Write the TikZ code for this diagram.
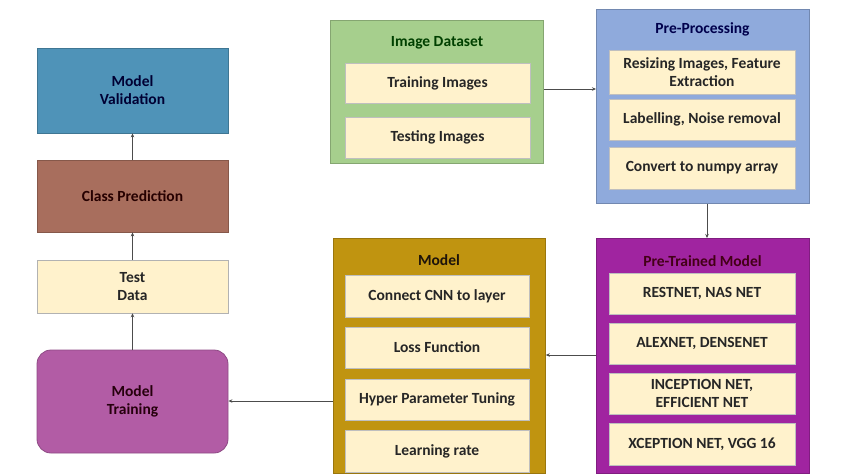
\documentclass[tikz,border=0pt]{standalone}
\usepackage{fontspec}
\setmainfont{Carlito}
\usetikzlibrary{arrows.meta}
\definecolor{cream}{HTML}{FFF2CC}
\definecolor{valblue}{HTML}{4F93B8}
\definecolor{predbrown}{HTML}{A86E5D}
\definecolor{trainpurple}{HTML}{B25CA5}
\definecolor{dsgreen}{HTML}{A6CF8D}
\definecolor{ppblue}{HTML}{8FAADC}
\definecolor{ptpurple}{HTML}{A024A0}
\definecolor{mdgold}{HTML}{C09410}
\tikzset{
  every node/.style={font=\bfseries\fontsize{15.5}{18}\selectfont, text=black!85, align=center, inner sep=0pt},
  outer/.style={draw=#1!80!black, fill=#1, line width=0.8pt},
  inner/.style={draw=black!25, fill=cream, line width=0.5pt},
  conn/.style={draw=black!70, line width=0.7pt, -{Stealth[length=4pt,width=3.5pt]}},
}
\begin{document}
\begin{tikzpicture}[x=1pt,y=-1pt]
\useasboundingbox (0,0) rectangle (850,475);
% left column
\node[outer=valblue, minimum width=191, minimum height=85, text=black!80!blue] (val) at (132.5,90.5) {Model\\Validation};
\node[outer=predbrown, minimum width=191, minimum height=72, text=black!85!red] (pred) at (132.5,196) {Class Prediction};
\node[inner, draw=black!30, minimum width=191, minimum height=53] (test) at (132.5,286.5) {Test\\Data};
\node[outer=trainpurple, rounded corners=14pt, minimum width=191, minimum height=103, text=black!80!purple] (train) at (132.5,401.5) {Model\\Training};
% image dataset
\node[outer=dsgreen, minimum width=213, minimum height=143, anchor=north west] (ds) at (330,20) {};
\node[text=black!75!green] (dst) at (437,43) {Image Dataset};
\node[inner, minimum width=185, minimum height=40] (tri) at (437.5,83) {Training Images};
\node[inner, minimum width=185, minimum height=41] (tei) at (437.5,137.5) {Testing Images};
% pre-processing
\node[outer=ppblue, minimum width=213, minimum height=194, anchor=north west] (pp) at (596,9) {};
\node[text=black!70!blue] (ppt) at (702.5,29) {Pre-Processing};
\node[inner, minimum width=186, minimum height=44] (rs) at (702,72) {Resizing Images, Feature\\Extraction};
\node[inner, minimum width=186, minimum height=41] (lb) at (702,119.5) {Labelling, Noise removal};
\node[inner, minimum width=186, minimum height=42] (cv) at (702,168) {Convert to numpy array};
% pre-trained model
\node[outer=ptpurple, minimum width=213, minimum height=235, anchor=north west] (pt) at (596,238) {};
\node[text=black!65!purple] (ptt) at (702.5,261) {Pre-Trained Model};
\node[inner, minimum width=186, minimum height=41] (m1) at (702,293.5) {RESTNET, NAS NET};
\node[inner, minimum width=186, minimum height=41] (m2) at (702,343.5) {ALEXNET, DENSENET};
\node[inner, minimum width=186, minimum height=41] (m3) at (702,393.5) {INCEPTION NET,\\EFFICIENT NET};
\node[inner, minimum width=186, minimum height=42] (m4) at (702,444) {XCEPTION NET, VGG 16};
% model
\node[outer=mdgold, minimum width=212, minimum height=235, anchor=north west] (md) at (333,238) {};
\node[text=black!85!brown] (mdt) at (439,260) {Model};
\node[inner, minimum width=184, minimum height=42] (c1) at (437,296) {Connect CNN to layer};
\node[inner, minimum width=184, minimum height=41] (c2) at (437,347.5) {Loss Function};
\node[inner, minimum width=184, minimum height=41] (c3) at (437,399.5) {Hyper Parameter Tuning};
\node[inner, minimum width=184, minimum height=42] (c4) at (437,451) {Learning rate};
% connectors
\draw[conn] (ds.east |- 0,89) -- (pp.west |- 0,89);
\draw[conn] (pp.south -| 707,0) -- (pt.north -| 707,0);
\draw[conn] (pt.west |- 0,355) -- (md.east |- 0,355);
\draw[conn] (md.west |- 0,401) -- (train.east |- 0,401);
\draw[conn] (train) -- (test);
\draw[conn] (test) -- (pred);
\draw[conn] (pred) -- (val);
\end{tikzpicture}
\end{document}
